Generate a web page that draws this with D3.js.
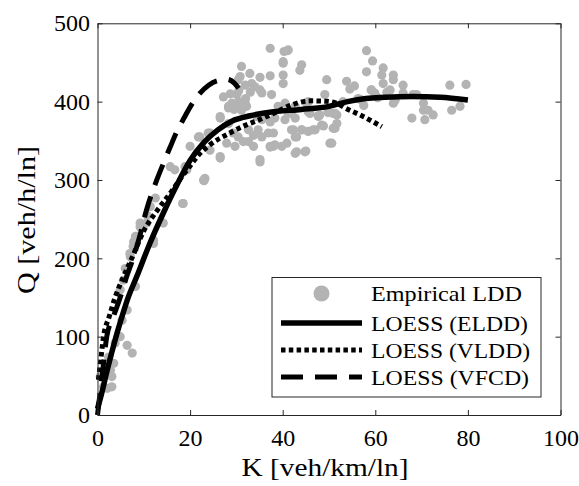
<!DOCTYPE html>
<html>
<head>
<meta charset="utf-8">
<script src="https://cdn.jsdelivr.net/npm/d3@7/dist/d3.min.js"></script>
<style>
  html, body { margin: 0; padding: 0; background: #fff; }
  svg { display: block; }
  text { font-family: "Liberation Serif", "Times New Roman", serif; fill: #000; }
</style>
</head>
<body>
<svg id="chart" width="579" height="486"></svg>
<script>
// ---- data ----
const xTicks = [0, 20, 40, 60, 80, 100];
const yTicks = [0, 100, 200, 300, 400, 500];
const xLabel = "K [veh/km/ln]";
const yLabel = "Q [veh/h/ln]";
const legendLabels = ["Empirical LDD", "LOESS (ELDD)", "LOESS (VLDD)", "LOESS (VFCD)"];

// empirical LDD points: K, Q
const empK = [
  0.6, 1.3, 2.1, 2.4, 2.8, 3.1, 3.1, 3.5, 3.8, 4.9, 5.3, 4.9, 6.0, 6.4, 6.4, 7.5, 8.2, 7.1, 7.8, 8.2,
  9.2, 10.7, 11.4, 12.5, 12.1, 6.3, 5.6, 7.7, 7.0, 8.5, 9.2, 10.6, 14.2, 12.1, 18.5, 15.7, 16.7, 19.3, 18.4, 23.0,
  18.9, 20.0, 21.8, 22.1, 23.2, 23.9, 24.3, 26.5, 26.5, 26.5, 27.2, 27.9, 28.3, 28.3, 29.7, 30.1, 30.4, 30.4, 30.8, 30.4,
  31.1, 31.1, 31.9, 31.9, 32.6, 32.9, 33.7, 34.0, 34.7, 35.1, 35.1, 35.5, 35.5, 35.5, 36.9, 37.3, 37.3, 37.6, 38.3, 38.3,
  38.0, 39.0, 40.1, 40.1, 40.1, 40.1, 40.3, 40.5, 40.5, 40.9, 41.0, 41.2, 41.2, 41.9, 41.9, 42.7, 42.7, 42.7, 42.7, 43.0,
  43.0, 43.7, 44.1, 44.1, 44.8, 45.0, 45.2, 45.5, 45.5, 45.5, 47.0, 47.7, 47.7, 48.4, 49.1, 49.5, 49.8, 49.8, 50.2, 50.6,
  50.9, 51.3, 51.3, 51.7, 51.7, 53.8, 54.5, 56.3, 58.1, 58.1, 59.2, 59.4, 59.1, 59.9, 61.4, 61.7, 61.7, 63.2, 63.9, 63.9,
  63.9, 64.3, 66.0, 66.0, 67.9, 68.2, 68.9, 70.4, 70.4, 70.7, 71.4, 72.5, 76.1, 76.5, 78.3, 79.6, 29.0, 30.0, 29.5, 31.0,
  32.0, 28.7, 30.5, 33.0, 39.8, 34.4, 37.3, 33.3, 35.1, 26.5, 28.3, 32.2, 37.3, 24.3, 29.3, 32.6, 38.0, 31.5, 33.7, 37.3,
  35.1, 22.9, 44.1, 46.6, 48.8, 48.0, 45.9, 50.9, 56.7, 42.3, 57.5, 55.5, 60.5, 62.5, 53.0
];
const empQ = [
  49, 36, 34, 74, 57, 49, 36, 66, 92, 100, 121, 160, 187, 134, 89, 79, 164, 202, 221, 228,
  245, 255, 266, 277, 219, 185, 172, 215, 206, 228, 240, 245, 245, 223, 270, 317, 313, 313, 270, 299,
  317, 343, 355, 355, 302, 360, 338, 381, 328, 330, 406, 347, 394, 372, 343, 409, 428, 355, 432, 400,
  389, 445, 421, 398, 349, 436, 357, 419, 364, 431, 323, 411, 377, 355, 360, 433, 468, 409, 379, 345,
  343, 394, 434, 423, 451, 449, 464, 377, 398, 347, 465, 466, 385, 385, 364, 394, 355, 334, 379, 355,
  336, 440, 447, 364, 336, 337, 398, 400, 387, 362, 364, 382, 381, 370, 409, 428, 386, 387, 347, 347,
  366, 385, 366, 372, 383, 426, 416, 404, 465, 438, 415, 452, 415, 411, 434, 443, 423, 415, 434, 428,
  398, 402, 421, 411, 379, 409, 409, 398, 389, 377, 389, 383, 421, 389, 394, 422, 398, 395, 390, 393,
  404, 410, 414, 412, 343, 381, 374, 423, 415, 379, 392, 394, 342, 360, 360, 364, 360, 349, 343, 343,
  326, 300, 364, 364, 369, 383, 385, 385, 403, 364, 395, 420, 405, 412, 400
];

// LOESS (ELDD) – solid
const elddK = [0, 1, 2, 3, 4, 5, 6.5, 8.5, 11.3, 14, 17, 20, 23, 26, 29, 33, 38, 44, 50, 54, 58, 62, 68, 74, 80];
const elddQ = [8, 30, 55, 78, 100, 120, 148, 177, 219, 255, 292, 325, 348, 364, 375, 382, 387, 390, 394, 400, 404, 405.5, 406.5, 405.5, 402];

// LOESS (VLDD) – dotted
const vlddK = [0.2, 0.7, 1.3, 2.5, 3.8, 5.5, 7.4, 10, 13, 15.7, 18.2, 20, 22, 24.3, 28.6, 32, 35, 38, 42, 46, 49.5, 52, 53.5, 56.7, 59, 61.4];
const vlddQ = [45, 70, 100, 125, 150, 175, 200, 235, 262, 283, 304, 318, 333, 345, 360, 370, 377, 385, 396, 401, 400.5, 397, 392, 383, 376, 368];

// LOESS (VFCD) – dashed
const vfcdK = [0, 0.5, 1, 2, 3.4, 4.9, 6.2, 7.7, 9.2, 10.6, 12.8, 14.5, 15.7, 17, 18.5, 20, 22, 24, 26, 28, 29.5, 30.5];
const vfcdQ = [0, 25, 50, 100, 125, 150, 175, 200, 230, 262, 300, 325, 342, 360, 377, 393, 410, 421, 427, 428.5, 424, 417];

// ---- drawing ----
const svg = d3.select("#chart");
const L = 97.5, R = 560.5, T = 23.3, B = 415;
const x = d3.scaleLinear().domain([0, 100]).range([L, R]);
const y = d3.scaleLinear().domain([0, 500]).range([B, T]);
const axisColor = "#262626";
const ptColor = "#b3b3b3";

// points
svg.append("g").selectAll("circle")
  .data(empK.map((k, i) => [k, empQ[i]]))
  .join("circle")
  .attr("cx", d => x(d[0]))
  .attr("cy", d => y(d[1]))
  .attr("r", 4.6)
  .attr("fill", ptColor);

const line = d3.line().x(d => x(d[0])).y(d => y(d[1])).curve(d3.curveMonotoneX);
const zip = (a, b) => a.map((v, i) => [v, b[i]]);

svg.append("path").datum(zip(elddK, elddQ)).attr("d", line)
  .attr("fill", "none").attr("stroke", "#000").attr("stroke-width", 5.5);
svg.append("path").datum(zip(vlddK, vlddQ)).attr("d", line)
  .attr("fill", "none").attr("stroke", "#000").attr("stroke-width", 5)
  .attr("stroke-dasharray", "4.5,3.3");
svg.append("path").datum(zip(vfcdK, vfcdQ)).attr("d", line)
  .attr("fill", "none").attr("stroke", "#000").attr("stroke-width", 5)
  .attr("stroke-dasharray", "22,12");

// axes
function styleAxis(g) {
  g.select(".domain").attr("stroke", axisColor).attr("stroke-width", 1);
  g.selectAll(".tick line").attr("stroke", axisColor).attr("stroke-width", 1);
  g.selectAll(".tick text").attr("fill", "#000").style("font-family", "'Liberation Serif', serif").style("font-size", "24px");
}
const gx = svg.append("g").attr("transform", `translate(0,${B})`)
  .call(d3.axisBottom(x).tickValues(xTicks).tickFormat(d3.format("d")).tickSizeInner(-5).tickSizeOuter(0).tickPadding(14));
styleAxis(gx);
const gy = svg.append("g").attr("transform", `translate(${L},0)`)
  .call(d3.axisLeft(y).tickValues(yTicks).tickFormat(d3.format("d")).tickSizeInner(-5).tickSizeOuter(0).tickPadding(7.5));
styleAxis(gy);
const gt = svg.append("g").attr("transform", `translate(0,${T})`)
  .call(d3.axisTop(x).tickValues(xTicks).tickFormat("").tickSizeInner(-5).tickSizeOuter(0));
styleAxis(gt);
const gr = svg.append("g").attr("transform", `translate(${R},0)`)
  .call(d3.axisRight(y).tickValues(yTicks).tickFormat("").tickSizeInner(-5).tickSizeOuter(0));
styleAxis(gr);

// axis labels
svg.append("text").attr("x", 325).attr("y", 476).attr("text-anchor", "middle")
  .style("font-size", "25px").attr("textLength", 167).attr("lengthAdjust", "spacingAndGlyphs")
  .text(xLabel);
svg.append("text").attr("transform", "translate(35,220) rotate(-90)").attr("text-anchor", "middle")
  .style("font-size", "25px").attr("textLength", 148).attr("lengthAdjust", "spacingAndGlyphs")
  .text(yLabel);

// legend
const lg = svg.append("g");
lg.append("rect").attr("x", 272).attr("y", 277.5).attr("width", 269).attr("height", 119.5)
  .attr("fill", "#fff").attr("stroke", axisColor).attr("stroke-width", 1);
const rowsY = [293.5, 323, 350, 377];
const sx0 = 281, sx1 = 362;
lg.append("circle").attr("cx", (sx0 + sx1) / 2).attr("cy", rowsY[0]).attr("r", 8).attr("fill", ptColor);
lg.append("line").attr("x1", sx0).attr("x2", sx1).attr("y1", rowsY[1]).attr("y2", rowsY[1])
  .attr("stroke", "#000").attr("stroke-width", 5.5);
lg.append("line").attr("x1", sx0).attr("x2", sx1).attr("y1", rowsY[2]).attr("y2", rowsY[2])
  .attr("stroke", "#000").attr("stroke-width", 5).attr("stroke-dasharray", "4.5,3.3");
lg.append("line").attr("x1", sx0).attr("x2", sx1).attr("y1", rowsY[3]).attr("y2", rowsY[3])
  .attr("stroke", "#000").attr("stroke-width", 5).attr("stroke-dasharray", "22,12");
const textLens = [151, 157, 159, 158];
legendLabels.forEach((t, i) => {
  lg.append("text").attr("x", 371).attr("y", rowsY[i] + 7.5)
    .style("font-size", "21px").attr("textLength", textLens[i]).attr("lengthAdjust", "spacingAndGlyphs")
    .text(t);
});
</script>
</body>
</html>
